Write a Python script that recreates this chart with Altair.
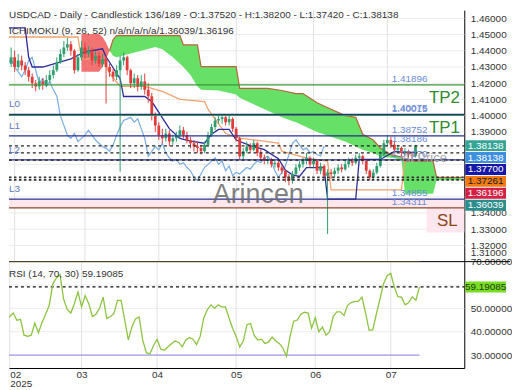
import altair as alt
import pandas as pd

# ---------------- data (bar index 0 = first trading day of Feb 2025) ----------------
FIRST_IDX = -2
OPEN0 = 1.4350
close = [1.4320, 1.4360, 1.4300, 1.4340, 1.4310, 1.4280, 1.4240, 1.4200, 1.4180, 1.4210,
         1.4190, 1.4220, 1.4250, 1.4280, 1.4330, 1.4380, 1.4420, 1.4440, 1.4400, 1.4280,
         1.4360, 1.4420, 1.4380, 1.4400, 1.4340, 1.4370, 1.4320, 1.4350, 1.4300, 1.4270,
         1.4240, 1.4280, 1.4340, 1.4360, 1.4280, 1.4200, 1.4230, 1.4180, 1.4210, 1.4160,
         1.4120, 1.4000, 1.3940, 1.3880, 1.3860, 1.3890, 1.3840, 1.3860, 1.3880, 1.3910,
         1.3880, 1.3850, 1.3830, 1.3810, 1.3800, 1.3780, 1.3820, 1.3880, 1.3930, 1.3970,
         1.3980, 1.3990, 1.3960, 1.3980, 1.3920, 1.3860, 1.3750, 1.3780, 1.3810, 1.3790,
         1.3830, 1.3770, 1.3740, 1.3720, 1.3730, 1.3700, 1.3710, 1.3680, 1.3660, 1.3620,
         1.3600, 1.3640, 1.3680, 1.3700, 1.3720, 1.3740, 1.3700, 1.3720, 1.3660, 1.3690,
         1.3630, 1.3650, 1.3640, 1.3660, 1.3680, 1.3670, 1.3700, 1.3720, 1.3710, 1.3740,
         1.3750, 1.3720, 1.3660, 1.3620, 1.3650, 1.3690, 1.3760, 1.3830, 1.3850, 1.3820,
         1.3790, 1.3800, 1.3770, 1.3780, 1.3760, 1.3752, 1.38138]
high = [1.4385, 1.4420, 1.4400, 1.4380, 1.4370, 1.4330, 1.4300, 1.4260, 1.4220, 1.4240,
        1.4230, 1.4250, 1.4280, 1.4310, 1.4360, 1.4410, 1.4460, 1.4480, 1.4460, 1.4410,
        1.4380, 1.4460, 1.4450, 1.4430, 1.4420, 1.4400, 1.4390, 1.4380, 1.4370, 1.4320,
        1.4290, 1.4310, 1.4370, 1.4390, 1.4370, 1.4290, 1.4260, 1.4250, 1.4250, 1.4260,
        1.4200, 1.4140, 1.4020, 1.3960, 1.3920, 1.3920, 1.3910, 1.3880, 1.3900, 1.3940,
        1.3930, 1.3900, 1.3870, 1.3850, 1.3840, 1.3820, 1.3840, 1.3900, 1.3950, 1.3990,
        1.4010, 1.4010, 1.4000, 1.4000, 1.3990, 1.3930, 1.3870, 1.3800, 1.3840, 1.3830,
        1.3850, 1.3840, 1.3790, 1.3760, 1.3750, 1.3740, 1.3730, 1.3720, 1.3700, 1.3670,
        1.3640, 1.3660, 1.3700, 1.3720, 1.3740, 1.3770, 1.3750, 1.3740, 1.3730, 1.3710,
        1.3700, 1.3670, 1.3670, 1.3680, 1.3700, 1.3700, 1.3720, 1.3740, 1.3740, 1.3760,
        1.3770, 1.3760, 1.3730, 1.3670, 1.3670, 1.3710, 1.3780, 1.3850, 1.3880, 1.3870,
        1.3840, 1.3820, 1.3810, 1.3800, 1.3790, 1.3780, 1.3820]
low = [1.4290, 1.4300, 1.4270, 1.4280, 1.4280, 1.4250, 1.4210, 1.4170, 1.4150, 1.4160,
       1.4160, 1.4180, 1.4200, 1.4230, 1.4270, 1.4320, 1.4360, 1.4400, 1.4370, 1.4260,
       1.4270, 1.4340, 1.4350, 1.4360, 1.4310, 1.4320, 1.4300, 1.4300, 1.4075, 1.4240,
       1.4210, 1.4220, 1.3655, 1.4310, 1.4250, 1.4170, 1.4170, 1.4150, 1.4160, 1.4130,
       1.4080, 1.3970, 1.3900, 1.3850, 1.3830, 1.3840, 1.3810, 1.3820, 1.3840, 1.3860,
       1.3860, 1.3830, 1.3800, 1.3780, 1.3770, 1.3760, 1.3770, 1.3810, 1.3870, 1.3910,
       1.3950, 1.3950, 1.3940, 1.3940, 1.3900, 1.3840, 1.3730, 1.3730, 1.3770, 1.3770,
       1.3780, 1.3750, 1.3720, 1.3700, 1.3700, 1.3680, 1.3680, 1.3660, 1.3640, 1.3590,
       1.3570, 1.3580, 1.3630, 1.3660, 1.3680, 1.3700, 1.3680, 1.3680, 1.3640, 1.3640,
       1.3610, 1.3270, 1.3610, 1.3620, 1.3640, 1.3650, 1.3660, 1.3680, 1.3690, 1.3700,
       1.3720, 1.3700, 1.3640, 1.3600, 1.3610, 1.3640, 1.3680, 1.3750, 1.3810, 1.3800,
       1.3770, 1.3770, 1.3750, 1.3750, 1.3740, 1.3730, 1.3742]
rsi = [46.3, 45.5, 46.5, 48.0, 44.9, 45.3, 38.5, 38.0, 38.5, 43.7,
       39.5, 44.0, 47.5, 51.3, 60.5, 63.0, 64.5, 54.0, 49.5, 48.0,
       52.0, 57.0, 50.6, 55.5, 52.0, 46.5, 47.5, 50.0, 54.8, 45.7,
       46.5, 47.7, 53.4, 53.4, 45.0, 36.5, 42.0, 45.5, 46.3, 36.5,
       31.0, 30.5, 34.0, 36.8, 32.6, 32.1, 33.5, 34.8, 36.0, 35.5,
       33.5, 36.5, 37.5, 36.8, 34.5, 38.0, 46.0, 49.5, 51.5, 50.0,
       51.5, 50.6, 50.6, 46.0, 41.5, 38.0, 33.5, 36.0, 43.0, 43.5,
       38.5, 36.4, 36.8, 35.0, 35.5, 37.7, 36.0, 35.0, 33.0, 29.5,
       38.0, 44.5, 45.0, 47.5, 48.4, 48.0, 41.5, 46.0, 40.0, 42.0,
       38.5, 40.0, 46.5, 48.5, 48.5, 47.0, 51.3, 52.5, 53.0, 53.0,
       54.8, 48.0, 40.6, 40.8, 47.5, 54.0, 60.5, 64.0, 65.0, 59.1,
       55.0, 54.8, 51.5, 52.5, 55.0, 53.5, 59.19085]

kumo_idx = [19, 24, 25, 26, 27, 28, 29, 36, 40, 42, 45, 47, 48, 50, 52, 53, 58, 63, 64, 68,
            72, 76, 80, 82, 86, 90, 94, 97, 99, 102, 104, 107, 110, 111, 119, 120, 127]
span_a = [1.4504, 1.4504, 1.4485, 1.4450, 1.4400, 1.4370, 1.4360, 1.4400, 1.4424, 1.4410,
          1.4360, 1.4320, 1.4300, 1.4250, 1.4180, 1.4160, 1.4155, 1.4130, 1.4110, 1.4070,
          1.4030, 1.3990, 1.3960, 1.3940, 1.3900, 1.3870, 1.3840, 1.3810, 1.3790, 1.3770,
          1.3750, 1.3740, 1.3730, 1.3518, 1.3518, 1.36039, 1.36039]
span_b = [1.4271, 1.4271, 1.4300, 1.4350, 1.4400, 1.4470, 1.4494, 1.4494, 1.4494, 1.4494,
          1.4494, 1.4494, 1.4436, 1.4436, 1.4436, 1.4302, 1.4302, 1.4302, 1.4168, 1.4168,
          1.4168, 1.4155, 1.4136, 1.4136, 1.4080, 1.4040, 1.4000, 1.3990, 1.3885, 1.3850,
          1.3800, 1.3760, 1.3745, 1.3720, 1.3720, 1.36196, 1.36196]
RED_KUMO_END = 27

kijun_idx = [-2, 18, 19, 25, 27, 30, 37, 42, 47, 54, 55, 59, 60, 64, 75, 76, 83, 89, 90, 110, 111, 114]
kijun_val = [1.4485, 1.4485, 1.4350, 1.4350, 1.4260, 1.4180, 1.4180, 1.4150, 1.4100, 1.4087,
             1.4040, 1.3920, 1.3890, 1.3862, 1.3831, 1.3781, 1.3738, 1.3720, 1.3542, 1.3542,
             1.3726, 1.37261]
tenkan_idx = [-2, 3, 4, 5, 8, 16, 20, 25, 26, 30, 31, 37, 39, 44, 47, 50, 54, 56, 58, 61,
              63, 67, 71, 75, 77, 79, 81, 83, 88, 89, 97, 98, 104, 108, 114]
tenkan_val = [1.4541, 1.4541, 1.4360, 1.4300, 1.4300, 1.4350, 1.4394, 1.4412, 1.4363, 1.4228,
              1.4118, 1.4118, 1.4087, 1.3920, 1.3860, 1.3843, 1.3830, 1.3885, 1.3915, 1.3915,
              1.3850, 1.3815, 1.3790, 1.3735, 1.3665, 1.3635, 1.3625, 1.3680, 1.3680, 1.3485,
              1.3485, 1.3730, 1.3730, 1.3780, 1.3770]
CHIKOU_SHIFT = 26

month_idx = [0, 20, 41, 63, 85, 106]
month_lab = ["02", "03", "04", "05", "06", "07"]

tp_val = [1.41896, 1.40015]
lv_val = [1.40075, 1.38752, 1.37270, 1.34855]
sl_val = [1.34311]
level_lab_text = ["1.41896", "1.40075", "1.40015", "1.38752", "1.38186", "1.37270", "1.34855", "1.34311"]
level_lab_val = [1.41896, 1.40075, 1.40015, 1.38752, 1.38186, 1.37270, 1.34855, 1.34311]
lname_text = ["L0", "L1", "L2", "L3"]
big_tp_text = ["TP2", "TP1"]

cur_dash_val = [1.38138, 1.37700, 1.37261]
cur_dot_val = [1.36196, 1.36039]
box_text = ["1.38138", "1.38138", "1.37700", "1.37261", "1.36196", "1.36039"]
box_fill = ["#36a596", "#3f8fe0", "#1818a8", "#f47a12", "#d61f45", "#2c8d8d"]
box_ink = ["#ffffff", "#ffffff", "#ffffff", "#1a1a1a", "#ffffff", "#ffffff"]

main_ticks = [1.31, 1.32, 1.33, 1.34, 1.39, 1.40, 1.41, 1.42, 1.43, 1.44, 1.45, 1.46]
grid_ticks = [round(1.31 + 0.01 * k, 2) for k in range(16)]
rsi_ticks = [30, 40, 50, 70]

RSI_LAST = 59.19085
TITLE1 = "USDCAD - Daily - Candlestick   136/189 - O:1.37520 - H:1.38200 - L:1.37420 - C:1.38138"
TITLE2 = "ICHIMOKU (9, 26, 52)   n/a/n/a/n/a/1.36039/1.36196"
TITLE3 = "RSI (14, 70, 30)   59.19085"

# ---------------- tables ----------------
n = len(close)
idx = list(range(FIRST_IDX, FIRST_IDX + n))
opens = [OPEN0] + close[:-1]
candles = pd.DataFrame({"i": idx, "o": opens, "h": high, "l": low, "c": close})
up = candles[candles["c"] >= candles["o"]]
down = candles[candles["c"] < candles["o"]]
chikou = pd.DataFrame({"i": [k - CHIKOU_SHIFT for k in idx], "v": close})
kumo = pd.DataFrame({"i": kumo_idx, "a": span_a, "b": span_b})
kumo_red = kumo[kumo["i"] <= RED_KUMO_END]
kumo_green = kumo[kumo["i"] >= RED_KUMO_END]
kijun = pd.DataFrame({"i": kijun_idx, "v": kijun_val})
tenkan = pd.DataFrame({"i": tenkan_idx, "v": tenkan_val})
rsi_df = pd.DataFrame({"i": idx, "v": rsi})
months = pd.DataFrame({"i": month_idx, "m": month_lab})
lev_lab = pd.DataFrame({"t": level_lab_text, "v": level_lab_val})
lnames = pd.DataFrame({"t": lname_text, "v": lv_val})
tp_big = pd.DataFrame({"t": big_tp_text, "v": tp_val})
sl_big = pd.DataFrame({"t": ["SL"], "v": sl_val})
hgrid = pd.DataFrame({"v": grid_ticks})

# ---------------- layout ----------------
XMIN, XMAX = -0.19, 126.46
W = 458
H_MAIN = 253
H_RSI = 107
FONT = "Liberation Sans"

BOX_X0, BOX_X1 = W + 1, W + 42
BOX_TOP0, BOX_STEP, BOX_H = 130.8, 12.0, 11.0
boxes = pd.DataFrame({"t": box_text, "f": box_fill, "k": box_ink})
boxes["y0"] = [BOX_TOP0 + BOX_STEP * k for k in range(len(boxes))]
boxes["y1"] = boxes["y0"] + BOX_H
boxes["ym"] = boxes["y0"] + BOX_H / 2

XS = alt.Scale(domain=[XMIN, XMAX], nice=False, zero=False)
YS = alt.Scale(domain=[1.31, 1.46507], nice=False, zero=False)
RS = alt.Scale(domain=[24.47, 70], nice=False, zero=False)

yaxis = alt.Axis(orient="right", values=main_ticks, format=".5f", grid=False,
                 domainColor="#000000", ticks=False, labelPadding=6, labelFlush=False,
                 labelOverlap=False,
                 labelOffset={"condition": {"test": "datum.value < 1.315", "value": -9}, "value": 0},
                 title=None)
raxis = alt.Axis(orient="right", values=rsi_ticks, format=".5f", grid=False,
                 domainColor="#000000", ticks=False, labelPadding=6, labelOverlap=False,
                 labelFlush=False, title=None)
lab_expr = " : ".join(
    [f"datum.value == {m} ? {repr(['02', '2025']) if k == 0 else repr(l)}"
     for k, (m, l) in enumerate(zip(month_idx, month_lab))]) + " : ''"
xaxis_rsi = alt.Axis(orient="bottom", values=month_idx, labelExpr=lab_expr, grid=False,
                     domainColor="#000000", ticks=False, labelPadding=2, labelFlush=6,
                     labelOverlap=False, labelLineHeight=9, title=None, labelFontSize=10)


def X(f):
    return alt.X(f, type="quantitative", scale=XS, axis=None, title=None)


def Y(f):
    return alt.Y(f, type="quantitative", scale=YS, axis=yaxis, title=None)


def XR(f):
    return alt.X(f, type="quantitative", scale=XS, axis=xaxis_rsi, title=None)


def YR(f):
    return alt.Y(f, type="quantitative", scale=RS, axis=raxis, title=None)


def full_rule(df, color, width=1.3, dash=None):
    kw = dict(color=color, strokeWidth=width)
    if dash:
        kw["strokeDash"] = dash
    return alt.Chart(df).mark_rule(**kw).encode(y=Y("v"), x=alt.value(0), x2=alt.value(W))


def txt(s, **kw):
    return alt.Chart(pd.DataFrame({"t": [s]})).mark_text(font=FONT, **kw)


# ---------------- main panel ----------------
vgrid = alt.Chart(months).mark_rule(color="#e2e2e2", strokeWidth=1).encode(x=X("i"))
hgrid_l = full_rule(hgrid, "#ebebeb", 1)
pink = alt.Chart(pd.DataFrame({"a": [lv_val[3]], "b": [sl_val[0]]})).mark_rect(
    color="#fde6ec").encode(y=Y("a"), y2=alt.Y2("b"), x=alt.value(0), x2=alt.value(W))
sl_box = alt.Chart(pd.DataFrame({"a": [sl_val[0]], "b": [1.3279]})).mark_rect(
    color="#fde6ee").encode(y=Y("a"), y2=alt.Y2("b"), x=alt.value(420), x2=alt.value(W))
red_area = alt.Chart(kumo_red).mark_area(clip=True, color="#f26a6a", opacity=0.95).encode(
    x=X("i"), y=Y("a"), y2=alt.Y2("b"))
green_area = alt.Chart(kumo_green).mark_area(clip=True, color="#66e066", opacity=1).encode(
    x=X("i"), y=Y("a"), y2=alt.Y2("b"))
spanb_line = alt.Chart(kumo_green).mark_line(clip=True, color="#b8643a", strokeWidth=1.2).encode(
    x=X("i"), y=Y("b"))
chik = alt.Chart(chikou).mark_line(clip=True, color="#78ade0", strokeWidth=1.2).encode(
    x=X("i"), y=Y("v"))
kij = alt.Chart(kijun).mark_line(clip=True, color="#f2a26c", strokeWidth=1.3).encode(
    x=X("i"), y=Y("v"))
ten = alt.Chart(tenkan).mark_line(clip=True, color="#2d2b9a", strokeWidth=1.3).encode(
    x=X("i"), y=Y("v"))
GREEN, RED = "#2f9e6e", "#e23b3b"
wick_up = alt.Chart(up).mark_rule(clip=True, strokeWidth=1, color=GREEN).encode(
    x=X("i"), y=Y("l"), y2=alt.Y2("h"))
wick_dn = alt.Chart(down).mark_rule(clip=True, strokeWidth=1, color=RED).encode(
    x=X("i"), y=Y("l"), y2=alt.Y2("h"))
body_up = alt.Chart(up).mark_bar(clip=True, size=2.8, color=GREEN).encode(
    x=X("i"), y=Y("o"), y2=alt.Y2("c"))
body_dn = alt.Chart(down).mark_bar(clip=True, size=2.8, color=RED).encode(
    x=X("i"), y=Y("o"), y2=alt.Y2("c"))
tp_lines = full_rule(pd.DataFrame({"v": tp_val}), "#3a9a3a")
lv_lines = full_rule(pd.DataFrame({"v": lv_val}), "#27318f")
sl_lines = full_rule(pd.DataFrame({"v": sl_val}), "#8b4a2b")
dash_lines = full_rule(pd.DataFrame({"v": cur_dash_val}), "#222222", 1.2, [3, 3])
dot_lines = full_rule(pd.DataFrame({"v": cur_dot_val}), "#333333", 1.6, [2.5, 2.5])
lev_txt = alt.Chart(lev_lab).mark_text(align="left", baseline="middle", dy=-6, fontSize=10,
                                       font=FONT, color="#6a8bd6").encode(
    y=Y("v"), x=alt.value(385), text="t:N")
lname_txt = alt.Chart(lnames).mark_text(align="left", baseline="middle", dy=-10, fontSize=10,
                                        font=FONT, color="#5a78c8").encode(
    y=Y("v"), x=alt.value(0), text="t:N")
tp_txt = alt.Chart(tp_big).mark_text(align="center", baseline="middle", dy=13, fontSize=17,
                                     font=FONT, color="#2e8b2e").encode(
    y=Y("v"), x=alt.value(438), text="t:N")
sl_txt = alt.Chart(sl_big).mark_text(align="center", baseline="middle", dy=13, fontSize=17,
                                     font=FONT, color="#8b4513").encode(
    y=Y("v"), x=alt.value(441), text="t:N")
watermark = txt("Arincen", align="left", baseline="alphabetic", fontSize=27,
                color="#6a6a6a", opacity=0.85).encode(x=alt.value(205), y=alt.value(194), text="t:N")
price_txt = txt("At Price", align="left", baseline="middle", fontSize=13,
                color="#a8a8a8").encode(x=alt.value(395), y=alt.value(149), text="t:N")
t1 = txt(TITLE1, align="left", baseline="top", fontSize=10, color="#333333").encode(
    x=alt.value(0), y=alt.value(0), text="t:N")
t2 = txt(TITLE2, align="left", baseline="middle", fontSize=10, color="#333333").encode(
    x=alt.value(0), y=alt.value(21), text="t:N")
box_rect = alt.Chart(boxes).mark_rect().encode(
    x=alt.value(BOX_X0), x2=alt.value(BOX_X1),
    y=alt.Y("y0:Q", scale=None), y2=alt.Y2("y1"),
    color=alt.Color("f:N", scale=None))
box_txt = alt.Chart(boxes).mark_text(align="center", baseline="middle", fontSize=10, font=FONT).encode(
    x=alt.value((BOX_X0 + BOX_X1) / 2), y=alt.Y("ym:Q", scale=None), text="t:N",
    color=alt.Color("k:N", scale=None))

main = alt.layer(
    hgrid_l, vgrid, pink, sl_box, red_area, green_area, spanb_line, chik, kij, ten,
    wick_up, wick_dn, body_up, body_dn,
    tp_lines, lv_lines, sl_lines, dash_lines, dot_lines, lev_txt, lname_txt, tp_txt, sl_txt,
    watermark, price_txt, t1, t2, box_rect, box_txt
).properties(width=W, height=H_MAIN)

# ---------------- RSI panel ----------------
last_i = idx[-1]


def rsi_rule(v, color, width=1.0, dash=None):
    kw = dict(color=color, strokeWidth=width)
    if dash:
        kw["strokeDash"] = dash
    return alt.Chart(pd.DataFrame({"v": v})).mark_rule(**kw).encode(
        y=YR("v"), x=alt.value(0), x2=alt.value(W))


rgrid = alt.Chart(months).mark_rule(color="#e2e2e2", strokeWidth=1).encode(x=XR("i"))
rhgrid = rsi_rule([40, 50, 60], "#ebebeb")
sep = alt.Chart(pd.DataFrame({"v": [70]})).mark_rule(color="#000000", strokeWidth=1).encode(
    y=YR("v"), x=alt.value(0), x2=alt.value(504))
hi_line = alt.Chart(pd.DataFrame({"a": [FIRST_IDX], "b": [last_i], "v": [70]})).mark_rule(
    clip=True, strokeWidth=1.4, color="#cdb765").encode(x=XR("a"), x2=alt.X2("b"), y=YR("v"))
lo_line = alt.Chart(pd.DataFrame({"a": [FIRST_IDX], "b": [last_i], "v": [30]})).mark_rule(
    clip=True, strokeWidth=1.4, color="#a094e4").encode(x=XR("a"), x2=alt.X2("b"), y=YR("v"))
rsi_dash = rsi_rule([RSI_LAST], "#111111", 1.1, [3, 3])
rsi_line = alt.Chart(rsi_df).mark_line(clip=True, color="#8cc43f", strokeWidth=1.3).encode(
    x=XR("i"), y=YR("v"))
t3 = txt(TITLE3, align="left", baseline="middle", fontSize=10, color="#333333").encode(
    x=alt.value(0), y=alt.value(12.5), text="t:N")
rbox = alt.Chart(pd.DataFrame({"y0": [20.0], "y1": [31.0]})).mark_rect(color="#79dc25").encode(
    x=alt.value(BOX_X0), x2=alt.value(BOX_X1), y=alt.Y("y0:Q", scale=None), y2=alt.Y2("y1"))
rbox_txt = alt.Chart(pd.DataFrame({"t": ["59.19085"], "ym": [25.5]})).mark_text(
    align="center", baseline="middle", fontSize=10, font=FONT, color="#1d3d06").encode(
    x=alt.value((BOX_X0 + BOX_X1) / 2), y=alt.Y("ym:Q", scale=None), text="t:N")

rsi_panel = alt.layer(
    rhgrid, rgrid, sep, hi_line, lo_line, rsi_dash, rsi_line, t3, rbox, rbox_txt
).properties(width=W, height=H_RSI)

chart = alt.vconcat(main, rsi_panel, spacing=0, bounds="flush").properties(
    padding=0, background="white"
).configure_view(stroke=None).configure_axis(
    labelFont=FONT, labelFontSize=10, labelColor="#333333"
)

chart.save("out.html", embed_options={"renderer": "svg", "actions": False})
